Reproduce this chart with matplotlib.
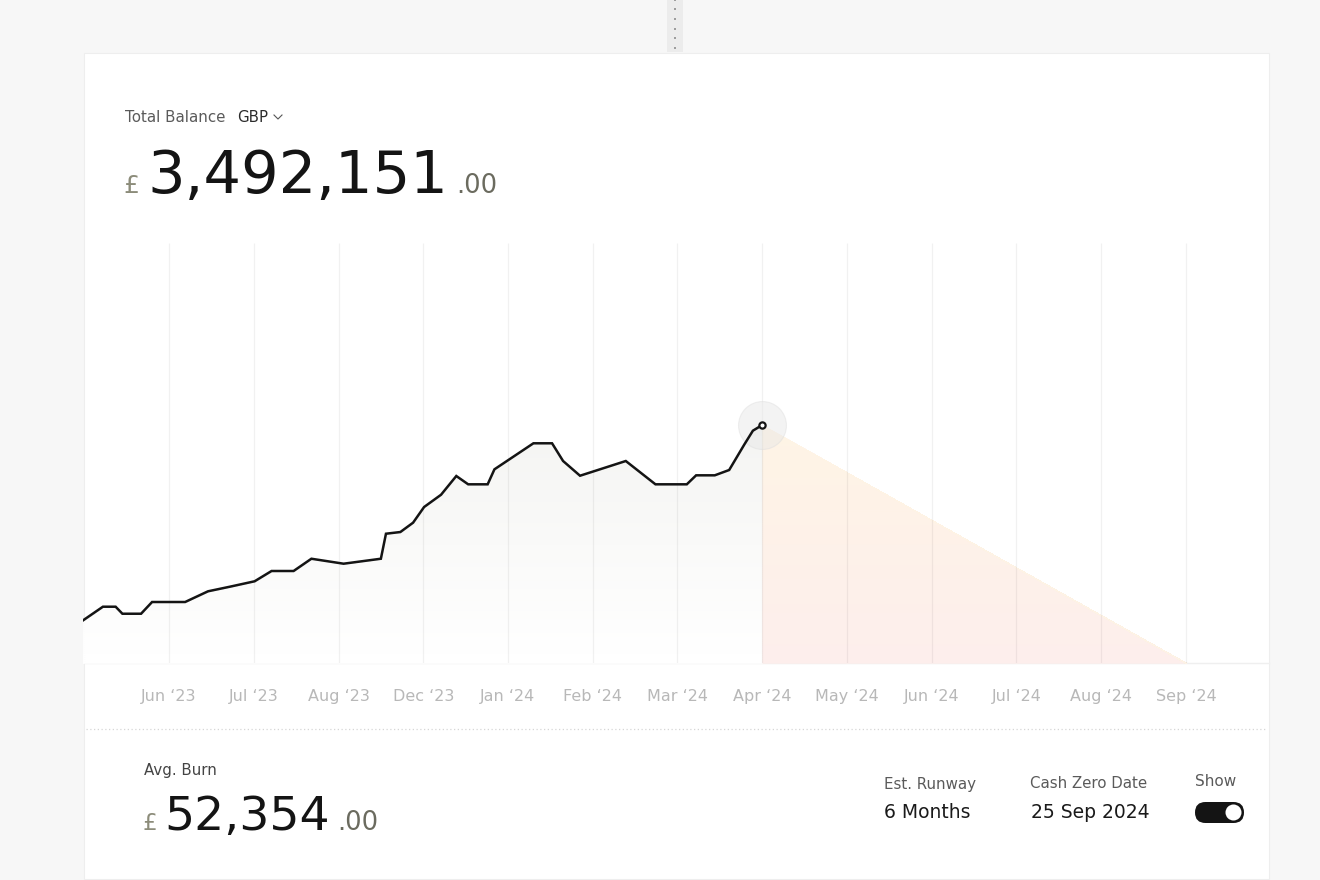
import matplotlib
matplotlib.use("Agg")
import matplotlib.pyplot as plt
import numpy as np
from matplotlib.patches import Rectangle, FancyBboxPatch, Circle

plt.rcParams['font.family'] = ['DejaVu Sans']

# ---------------- data ----------------
month_labels = ["Jun \u201823", "Jul \u201823", "Aug \u201823", "Dec \u201823", "Jan \u201824",
                "Feb \u201824", "Mar \u201824", "Apr \u201824", "May \u201824", "Jun \u201824",
                "Jul \u201824", "Aug \u201824", "Sep \u201824"]

# position along the month axis (index of tick label, fractional) and balance in £k
balance_x = [-1.02, -0.78, -0.63, -0.55, -0.33, -0.20, 0.19, 0.46, 0.72, 1.01, 1.21, 1.47,
             1.68, 2.06, 2.50, 2.56, 2.73, 2.88, 3.01, 3.21, 3.39, 3.53, 3.76, 3.84, 4.30,
             4.52, 4.65, 4.85, 5.39, 5.74, 6.11, 6.22, 6.44, 6.61, 6.79, 6.89, 7.00]
balance_k = [621, 826, 826, 723, 723, 895, 895, 1052, 1120, 1199, 1350, 1350,
             1530, 1457, 1530, 1897, 1922, 2059, 2289, 2469, 2744, 2622, 2622, 2842, 3224,
             3224, 2964, 2748, 2964, 2622, 2622, 2754, 2754, 2832, 3209, 3409, 3492.151]

projection_x = [7, 12]
projection_k = [3492.151, 0]

total_balance = 3492151
avg_burn = 52354
runway_text = "6 Months"
cash_zero_text = "25 Sep 2024"

W, H = 1320, 880
fig = plt.figure(figsize=(W / 100, H / 100), dpi=100)
fig.patch.set_facecolor('#f7f7f7')

# background / decoration axes in pixel coordinates
bg = fig.add_axes([0, 0, 1, 1], zorder=0)
bg.set_xlim(0, W)
bg.set_ylim(H, 0)
bg.axis('off')

# top divider handle
bg.add_patch(Rectangle((667, 0), 16, 52, fc='#ececec', ec='none'))
for yy in [0, 9.5, 19, 28.7, 38.3, 48]:
    bg.add_patch(Rectangle((674.0, yy - 1.0), 2.0, 2.0, fc='#9d9d9d', ec='none'))

# card
bg.add_patch(Rectangle((84, 53), 1185, 826, fc='white', ec='#eeeeee', lw=0.8))

# header
bg.text(125, 117, "Total Balance", fontsize=10.8, color='#5a5a5a', va='center', ha='left')
bg.text(237, 117, "GBP", fontsize=10.8, color='#2b2b2b', va='center', ha='left')
bg.plot([274, 278, 282], [115, 119, 115], color='#555555', lw=0.8)

bg.text(123, 193, "\u00a3", fontsize=18, color='#8c8c7a', va='baseline', ha='left')
bg.text(147, 193, f"{total_balance:,}", fontsize=42.6, color='#141414', va='baseline', ha='left')
bg.text(456, 193, ".00", fontsize=18.5, color='#6b6b5f', va='baseline', ha='left')

# separators
bg.plot([84, 1269], [663.5, 663.5], color='#efefef', lw=1)
bg.plot([86, 1266], [729, 729], color='#d6d6d6', lw=0.9, linestyle=(0, (1, 2)))

# footer
bg.text(144, 770, "Avg. Burn", fontsize=10.8, color='#444444', va='center', ha='left')
bg.text(142, 830, "\u00a3", fontsize=16.5, color='#8c8c7a', va='baseline', ha='left')
bg.text(164, 830, f"{avg_burn:,}", fontsize=34, color='#141414', va='baseline', ha='left')
bg.text(337, 830, ".00", fontsize=18.5, color='#6b6b5f', va='baseline', ha='left')

bg.text(884, 784, "Est. Runway", fontsize=10.8, color='#5a5a5a', va='center', ha='left')
bg.text(884, 813, runway_text, fontsize=13.5, color='#1a1a1a', va='center', ha='left')
bg.text(1030, 784, "Cash Zero Date", fontsize=10.8, color='#5a5a5a', va='center', ha='left')
bg.text(1031, 813, cash_zero_text, fontsize=13.5, color='#1a1a1a', va='center', ha='left')
bg.text(1195, 782, "Show", fontsize=11, color='#5a5a5a', va='center', ha='left')
bg.add_patch(FancyBboxPatch((1195, 802), 49, 21, boxstyle='round,pad=0,rounding_size=10.5',
                            fc='#141414', ec='none'))
bg.add_patch(Circle((1233.5, 812.5), 8, fc='white', ec='none'))

# ---------------- chart ----------------
x0, x1 = -1.015, 12.98
ytop = 6163
ax = fig.add_axes([83 / W, 1 - 663 / H, (1269 - 83) / W, (663 - 243) / H], zorder=1)
ax.set_facecolor('none')


def gradient_under(ax, xs, ys, top_rgb, bot_rgb, zorder, nb=120):
    """Vertical gradient fill under a polyline, drawn as horizontal bands."""
    xs = np.asarray(xs, float)
    ys = np.asarray(ys, float)
    xd = np.linspace(xs[0], xs[-1], 3000)
    xd = np.union1d(xd, xs)
    yd = np.interp(xd, xs, ys)
    ymax = ys.max()
    edges = np.linspace(0, ymax, nb + 1)
    for i in range(nb):
        lo, hi = edges[i], edges[i + 1]
        t = 1 - (lo + hi) / 2 / ymax  # 0 at top, 1 at bottom
        c = [(top_rgb[k] * (1 - t) + bot_rgb[k] * t) / 255.0 for k in range(3)]
        ax.fill_between(xd, np.minimum(yd, lo), np.minimum(yd, hi), facecolor=c,
                        edgecolor=c, lw=0.4, zorder=zorder)


gradient_under(ax, balance_x, balance_k, (244, 244, 242), (255, 255, 255), 1)
gradient_under(ax, projection_x, projection_k, (254, 244, 229), (253, 238, 236), 1)

ax.vlines(range(len(month_labels)), 0, ytop, color='black', alpha=0.055, lw=0.9, zorder=2)

ax.plot(balance_x, balance_k, color='#141414', lw=1.8, zorder=4, solid_joinstyle='miter')
ax.scatter([balance_x[-1]], [balance_k[-1]], s=1190, color='#e6e6e6', alpha=0.45,
           edgecolors='#dddddd', linewidths=0.8, zorder=3)
ax.plot([balance_x[-1]], [balance_k[-1]], marker='o', ms=4.5, mfc='white', mec='#141414',
        mew=1.6, zorder=5)

ax.set_xlim(x0, x1)
ax.set_ylim(0, ytop)
ax.set_xticks(range(len(month_labels)))
ax.set_xticklabels(month_labels, color='#b8b8b8', fontsize=11.5)
ax.tick_params(axis='x', length=0, pad=19)
ax.set_yticks([])
for s in ax.spines.values():
    s.set_visible(False)

fig.savefig("out.png", dpi=100, facecolor=fig.get_facecolor())
